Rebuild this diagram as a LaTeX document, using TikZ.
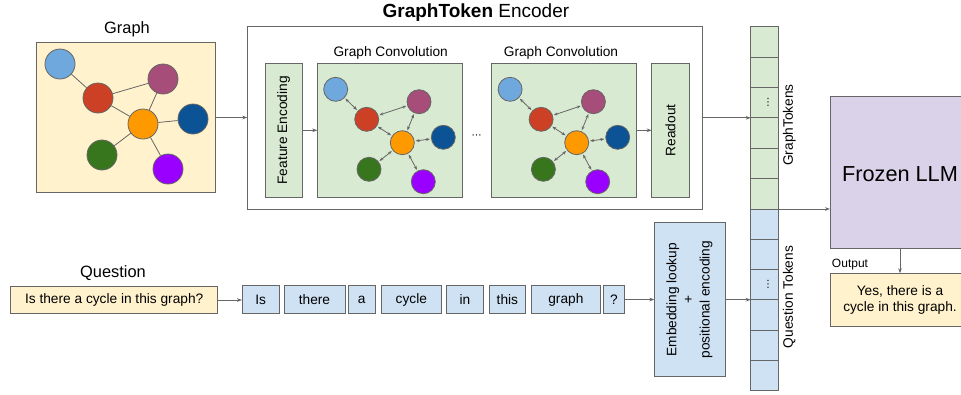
\documentclass[tikz,border=0pt]{standalone}
\usepackage{fontspec}
\setmainfont{Liberation Sans}
\newfontfamily\dvfont{DejaVu Sans}
\usetikzlibrary{arrows.meta}
\definecolor{lc}{HTML}{666666}
\definecolor{yel}{HTML}{FFF2CC}
\definecolor{grn}{HTML}{D9EAD3}
\definecolor{blu}{HTML}{CFE2F3}
\definecolor{pur}{HTML}{D9D2E9}
\definecolor{nlb}{HTML}{6FA8DC}
\definecolor{nrd}{HTML}{CC4125}
\definecolor{nmg}{HTML}{A64D79}
\definecolor{nor}{HTML}{FF9900}
\definecolor{ndb}{HTML}{0B5394}
\definecolor{ngr}{HTML}{38761D}
\definecolor{nvi}{HTML}{9900FF}
\begin{document}
\begin{tikzpicture}[x=1pt,y=-1pt,
  ln/.style={draw=lc, line width=0.8pt},
  arr/.style={ln, -{Stealth[length=5pt,width=3.6pt]}},
  darr/.style={ln, {Stealth[length=4pt,width=3pt]}-{Stealth[length=4pt,width=3pt]}, shorten <=1pt, shorten >=1pt},
  gn/.style={circle, draw=lc, line width=0.8pt, minimum size=30pt, inner sep=0pt},
  cn/.style={gn, minimum size=24pt},
  box/.style={draw=lc, line width=0.8pt, inner sep=0pt, outer sep=0pt},
  txt/.style={font=\fontsize{13.7}{16.7}\selectfont},
  ttl/.style={font=\fontsize{16.4}{19}\selectfont},
  cell/.style={box, minimum width=27.6pt, minimum height=30.38pt, font=\dvfont\fontsize{10}{12}\selectfont},
  tok/.style={box, fill=blu, txt, minimum height=27.6pt},
]
\useasboundingbox (0,0) rectangle (961,394);

% ---------- Graph ----------
\node[ttl] (gtitle) at (127,29) {Graph};
\node[box, fill=yel, minimum width=178.6pt, minimum height=149.6pt] (graph) at (126,117.5) {};
\node[gn, fill=nlb] (lb) at (60,64) {};
\node[gn, fill=nrd] (rd) at (98,98) {};
\node[gn, fill=nmg] (mg) at (163,79) {};
\node[gn, fill=nor] (or) at (143,124) {};
\node[gn, fill=ndb] (db) at (193,119) {};
\node[gn, fill=ngr] (gr) at (102,155) {};
\node[gn, fill=nvi] (vi) at (168,169) {};
\draw[ln] (lb) -- (rd);
\draw[ln] (rd) -- (mg);
\draw[ln] (rd) -- (or);
\draw[ln] (mg) -- (or);
\draw[ln] (or) -- (db);
\draw[ln] (or) -- (gr);
\draw[ln] (or) -- (vi);

% ---------- Encoder ----------
\node[font=\fontsize{19}{22}\selectfont] (etitle) at (475.9,13) {\textbf{GraphToken} Encoder};
\node[box, fill=white, minimum width=455pt, minimum height=182.3pt] (enc) at (474.8,117.85) {};
\node[box, fill=grn, txt, minimum width=37.3pt, minimum height=134pt] (fe) at (283.65,130.3) {\rotatebox{90}{Feature Encoding}};
\node[box, fill=grn, minimum width=145pt, minimum height=134pt] (cv1) at (389.8,130.3) {};
\node[box, fill=grn, minimum width=145pt, minimum height=134pt] (cv2) at (564.2,130.3) {};
\node[box, fill=grn, txt, minimum width=37.3pt, minimum height=134pt] (ro) at (670.35,130.3) {\rotatebox{90}{Readout}};
\node[txt] (ct1) at (390.7,53.3) {Graph Convolution};
\node[txt] (ct2) at (561,53.3) {Graph Convolution};
\node[font=\dvfont\fontsize{10}{12}\selectfont] (dots) at (476.5,137) {⋯};

\foreach \i/\dx in {1/0, 2/174.4}{
  \begin{scope}[shift={(\dx,0)}, name prefix=c\i-]
    \node[cn, fill=nlb] (lb) at (335.7,89.3) {};
    \node[cn, fill=nrd] (rd) at (366.7,119.3) {};
    \node[cn, fill=nmg] (mg) at (419,101.7) {};
    \node[cn, fill=nor] (or) at (402.3,142.7) {};
    \node[cn, fill=ndb] (db) at (443.3,137.3) {};
    \node[cn, fill=ngr] (gr) at (369,169.3) {};
    \node[cn, fill=nvi] (vi) at (423.3,181.7) {};
    \draw[darr] (lb) -- (rd);
    \draw[darr] (rd) -- (mg);
    \draw[darr] (rd) -- (or);
    \draw[darr] (mg) -- (or);
    \draw[darr] (or) -- (db);
    \draw[darr] (or) -- (gr);
    \draw[darr] (or) -- (vi);
  \end{scope}
}

\draw[arr] (graph.east) -- (graph.east -| enc.west);
\draw[arr] (fe.east) -- (fe.east -| cv1.west);
\draw[arr] (cv2.east) -- (cv2.east -| ro.west);

% ---------- Token column ----------
\foreach \k in {1,...,6}{
  \pgfmathsetmacro\gy{26.7+15.19+30.38*(\k-1)}
  \pgfmathsetmacro\qy{209+15.15+30.3*(\k-1)}
  \ifnum\k=3
    \node[cell, fill=grn] (gt\k) at (764.5,\gy) {\hspace*{7pt}⋮};
    \node[cell, fill=blu] (qt\k) at (764.5,\qy) {\hspace*{7pt}⋮};
  \else
    \node[cell, fill=grn] (gt\k) at (764.5,\gy) {};
    \node[cell, fill=blu] (qt\k) at (764.5,\qy) {};
  \fi
}
\node[txt, rotate=90] (gtl) at (789.3,125) {GraphTokens};
\node[txt, rotate=90] (qtl) at (789.3,297) {Question Tokens};

\draw[arr] (enc.east |- gt3.south west) -- (gt3.south west);

% ---------- LLM ----------
\node[box, fill=pur, minimum width=140pt, minimum height=151.6pt] (llm) at (900,172.5) {};
\node[font=\fontsize{21.7}{25}\selectfont] (llmt) at (900,174) {Frozen LLM};
\node[box, fill=yel, txt, align=center, minimum width=140pt, minimum height=53.4pt] (out) at (900,300) {Yes, there is a\\cycle in this graph.};
\node[font=\fontsize{12}{14}\selectfont] (outl) at (850,265) {Output};
\draw[arr] (gt6.south east) -- (gt6.south east -| llm.west);
\draw[arr] (llm.south) -- (out.north);

% ---------- Question ----------
\node[ttl] (qtitle) at (113,273.3) {Question};
\node[box, fill=yel, txt, minimum width=207pt, minimum height=26.6pt] (q) at (114.2,300) {Is there a cycle in this graph?};
\node[tok, minimum width=37.3pt] (t1) at (260.65,299.5) {Is};
\node[tok, minimum width=61pt] (t2) at (314.5,299.5) {there};
\node[tok, minimum width=26.7pt] (t3) at (361.65,299.5) {a};
\node[tok, minimum width=59.3pt] (t4) at (411.35,299.5) {cycle};
\node[tok, minimum width=36.6pt] (t5) at (465,299.5) {in};
\node[tok, minimum width=36.7pt] (t6) at (507.35,299.5) {this};
\node[tok, minimum width=69.7pt] (t7) at (565.85,299.5) {graph};
\node[tok, minimum width=20.3pt] (t8) at (613.85,299.5) {?};
\node[box, fill=blu, txt, minimum width=70.7pt, minimum height=154pt] (emb) at (689.65,299.7)
  {\rotatebox{90}{\begin{tabular}{@{}c@{}}Embedding lookup\\+\\positional encoding\end{tabular}}};
\draw[arr] (q.east) -- (q.east -| t1.west);
\draw[arr] (t8.east) -- (t8.east -| emb.west);
\draw[arr] (emb.east) -- (emb.east -| qt3.south west);
\end{tikzpicture}
\end{document}
